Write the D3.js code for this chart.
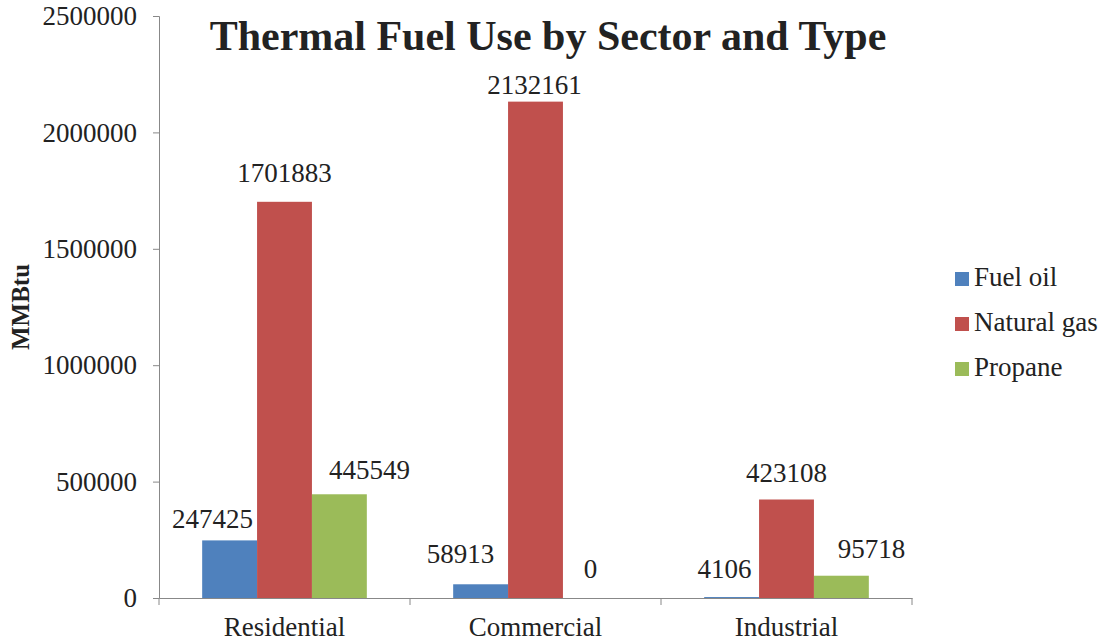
<!DOCTYPE html>
<html>
<head>
<meta charset="utf-8">
<script src="https://cdn.jsdelivr.net/npm/d3@7"></script>
<style>
  body { margin: 0; background: #fff; }
  text { font-family: "Liberation Serif", "Times New Roman", serif; fill: #222; }
</style>
</head>
<body>
<svg id="chart" width="1101" height="643"></svg>
<script>
// data
var sectors = ["Residential", "Commercial", "Industrial"];
var fuels = ["Fuel oil", "Natural gas", "Propane"];
var fuelOil = [247425, 58913, 4106];
var naturalGas = [1701883, 2132161, 423108];
var propane = [445549, 0, 95718];
var yTicks = [0, 500000, 1000000, 1500000, 2000000, 2500000];

var colors = ["#4F81BD", "#C0504D", "#9BBB59"];
// hand-moved labels in the original: [dx, dy] per sector, per fuel
var labelNudge = [
    [[-17, -12], [0, -20], [30, -15]],
    [[-20, -21], [-1, -8], [0, -20]],
    [[-7, -19], [0, -18], [30, -18]]
];

var svg = d3.select("#chart");
var margin = {left: 159, right: 189, top: 16, bottom: 45};
var width = 1101 - margin.left - margin.right,
    height = 643 - margin.top - margin.bottom;

var g = svg.append("g")
    .attr("transform", "translate(" + margin.left + "," + margin.top + ")");

var x0 = d3.scaleBand().domain(sectors).range([0, width]);
var x1 = d3.scaleBand().domain(fuels).range([x0.bandwidth() * 0.172, x0.bandwidth() * 0.828]);
var y = d3.scaleLinear().domain([0, 2500000]).range([height, 0]);

var series = [fuelOil, naturalGas, propane];
var rows = [];
fuels.forEach(function(f, i) {
    sectors.forEach(function(s, j) {
        rows.push({fuel: f, fi: i, sector: s, sj: j, value: series[i][j]});
    });
});

// y axis
var yAxis = g.append("g")
    .call(d3.axisLeft(y).tickValues(yTicks).tickSize(6).tickPadding(16).tickFormat(d3.format("d")));
yAxis.select(".domain").attr("stroke", "#888");
yAxis.selectAll(".tick line").attr("stroke", "#888");
yAxis.selectAll(".tick text").style("font-size", "27px").attr("fill", "#222");

// bars
g.append("g").selectAll("rect")
    .data(rows)
    .enter().append("rect")
    .attr("x", function(d) { return x0(d.sector) + x1(d.fuel); })
    .attr("y", function(d) { return y(d.value); })
    .attr("width", x1.bandwidth())
    .attr("height", function(d) { return height - y(d.value); })
    .attr("fill", function(d) { return colors[d.fi]; });

// x axis
var xAxis = g.append("g")
    .attr("transform", "translate(0," + height + ")")
    .call(d3.axisBottom(x0).tickSize(0));
xAxis.select(".domain").attr("stroke", "#888");
xAxis.selectAll(".tick text")
    .style("font-size", "27px")
    .attr("fill", "#222")
    .attr("y", 38)
    .attr("dy", null);
// category separator ticks
xAxis.selectAll("line.sep")
    .data(d3.range(sectors.length + 1))
    .enter().append("line")
    .attr("class", "sep")
    .attr("x1", function(i) { return i * x0.step(); })
    .attr("x2", function(i) { return i * x0.step(); })
    .attr("y1", 0).attr("y2", 7)
    .attr("stroke", "#888");

// value labels
g.append("g").selectAll("text")
    .data(rows)
    .enter().append("text")
    .attr("x", function(d) { return x0(d.sector) + x1(d.fuel) + x1.bandwidth() / 2 + labelNudge[d.sj][d.fi][0]; })
    .attr("y", function(d) { return y(d.value) + labelNudge[d.sj][d.fi][1]; })
    .attr("text-anchor", "middle")
    .style("font-size", "27px")
    .text(function(d) { return d.value; });

// title
svg.append("text")
    .attr("x", 548)
    .attr("y", 50)
    .attr("text-anchor", "middle")
    .style("font-size", "42px")
    .style("font-weight", "bold")
    .attr("fill", "#000")
    .text("Thermal Fuel Use by Sector and Type");

// y label
svg.append("text")
    .attr("transform", "translate(29,307) rotate(-90)")
    .attr("text-anchor", "middle")
    .style("font-size", "25px")
    .style("font-weight", "bold")
    .attr("fill", "#000")
    .text("MMBtu");

// legend
var legend = svg.append("g").selectAll("g")
    .data(fuels)
    .enter().append("g")
    .attr("transform", function(d, i) { return "translate(955," + (272 + i * 45) + ")"; });
legend.append("rect")
    .attr("width", 14).attr("height", 14)
    .attr("fill", function(d, i) { return colors[i]; });
legend.append("text")
    .attr("x", 19)
    .attr("y", 14)
    .style("font-size", "27px")
    .text(function(d) { return d; });
</script>
</body>
</html>
